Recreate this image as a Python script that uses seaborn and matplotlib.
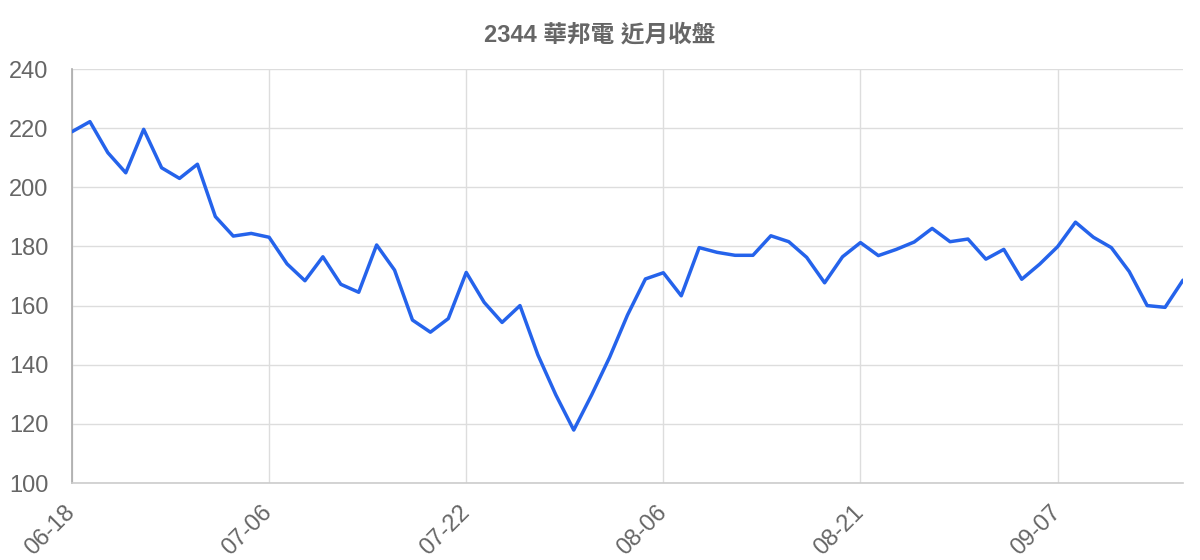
import numpy as np
import pandas as pd
import matplotlib
matplotlib.use("Agg")
import matplotlib.pyplot as plt
import seaborn as sns

# ─────────────────────────────────────────────
#  Data
# ─────────────────────────────────────────────
title = "2344 華邦電 近月收盤"

close_prices = [
    218.8, 222.2, 211.7, 204.9, 219.6, 206.6, 203.0, 207.8, 190.1, 183.5,
    184.4, 183.1, 174.1, 168.4, 176.5, 167.2, 164.5, 180.5, 172.0, 155.1,
    151.0, 155.6, 171.2, 161.1, 154.3, 160.0, 143.3, 129.8, 117.9, 129.8,
    142.5, 156.8, 169.0, 171.1, 163.3, 179.6, 178.0, 177.0, 177.0, 183.6,
    181.6, 176.3, 167.7, 176.5, 181.3, 176.9, 179.0, 181.5, 186.1, 181.6,
    182.5, 175.7, 179.0, 168.9, 174.0, 179.9, 188.2, 183.1, 179.6, 171.5,
    160.0, 159.4, 168.6,
]
tick_positions = [0, 11, 22, 33, 44, 55]
tick_labels = ["06-18", "07-06", "07-22", "08-06", "08-21", "09-07"]
y_ticks = [100, 120, 140, 160, 180, 200, 220, 240]

df = pd.DataFrame({"day": np.arange(len(close_prices)), "close": close_prices})

# ─────────────────────────────────────────────
#  Style
# ─────────────────────────────────────────────
sns.set_theme(style="white")
plt.rcParams["font.family"] = ["Liberation Sans", "Noto Sans CJK TC", "DejaVu Sans"]

TEXT = "#666666"
GRID = "#dddddd"

fig = plt.figure(figsize=(12, 5.6), dpi=100)
ax = fig.add_axes([72 / 1200, 1 - 483 / 560, (1183 - 72) / 1200, (483 - 69) / 560])

sns.lineplot(data=df, x="day", y="close", ax=ax, color="#2563eb",
             linewidth=2.5, zorder=3)

ax.set_xlim(0, len(close_prices) - 1)
ax.set_ylim(100, 240)
ax.set_xticks(tick_positions)
ax.set_xticklabels(tick_labels, rotation=45, ha="right", va="center",
                   rotation_mode="anchor", fontsize=17, color=TEXT)
ax.set_yticks(y_ticks)
ax.set_yticklabels([str(v) for v in y_ticks], fontsize=17, color=TEXT)

ax.grid(True, color=GRID, linewidth=1.0)
ax.tick_params(axis="x", length=13, width=1.0, color=GRID, pad=6)
ax.tick_params(axis="y", length=14, width=1.0, color=GRID, pad=3)

for side in ("top", "right"):
    ax.spines[side].set_visible(False)
ax.spines["left"].set_color("#aaaaaa")
ax.spines["left"].set_linewidth(1.2)
ax.spines["bottom"].set_color("#cccccc")
ax.spines["bottom"].set_linewidth(1.2)

ax.set_xlabel("")
ax.set_ylabel("")

fig.text(0.5, 1 - 35 / 560, title, ha="center", va="center",
         fontsize=17, fontweight="bold", color=TEXT)

fig.savefig("out.png", dpi=100)
